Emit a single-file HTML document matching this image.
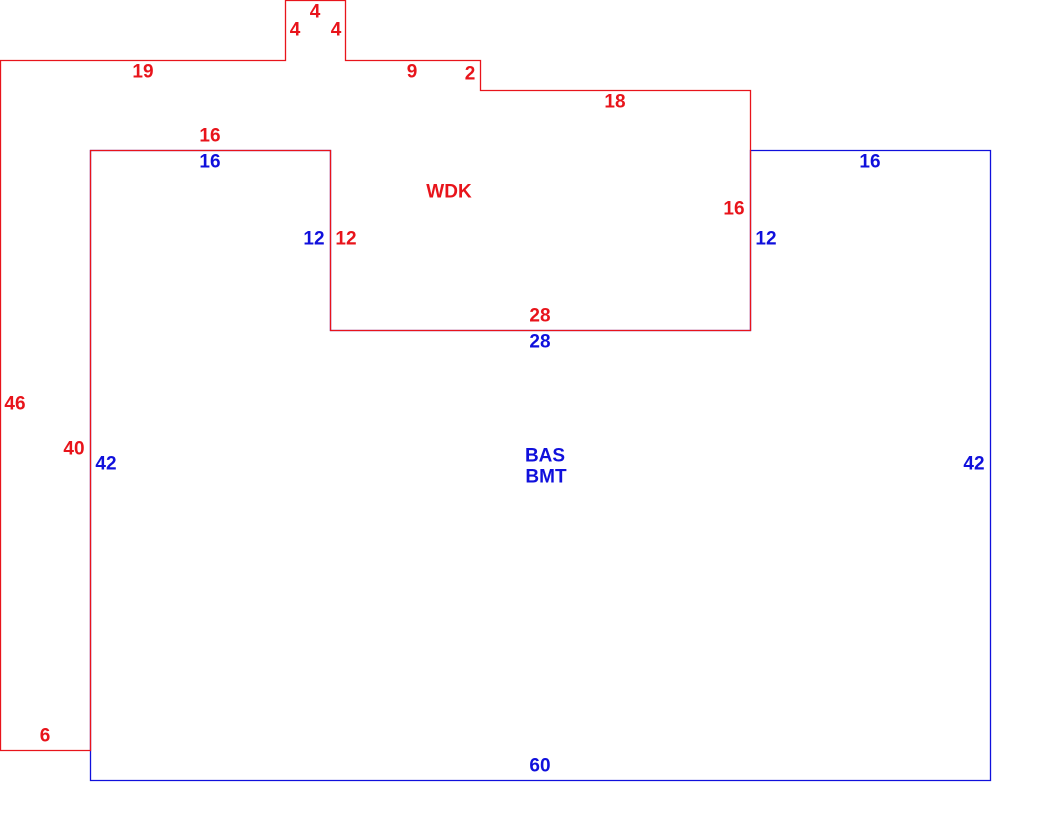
<!DOCTYPE html>
<html><head><meta charset="utf-8"><style>
html,body{margin:0;padding:0;background:#fff;}
svg{display:block;}
text{font-family:"Liberation Sans",Arial,sans-serif;font-weight:bold;font-size:19px;text-anchor:middle;dominant-baseline:central;}
.r{fill:#e8141b;} .b{fill:#1010dc;}
</style></head><body>
<svg width="1040" height="832" viewBox="0 0 1040 832" xmlns="http://www.w3.org/2000/svg">
<polygon points="90.5,150.5 330.5,150.5 330.5,330.5 750.5,330.5 750.5,150.5 990.5,150.5 990.5,780.5 90.5,780.5" fill="none" stroke="#1010dc" stroke-width="1.3"/>
<polygon points="0.5,60.5 285.5,60.5 285.5,0.5 345.5,0.5 345.5,60.5 480.5,60.5 480.5,90.5 750.5,90.5 750.5,330.5 330.5,330.5 330.5,150.5 90.5,150.5 90.5,750.5 0.5,750.5" fill="none" stroke="#e8141b" stroke-width="1.3"/>
<text class="r" x="315" y="12">4</text>
<text class="r" x="295" y="30">4</text>
<text class="r" x="336" y="30">4</text>
<text class="r" x="143" y="72">19</text>
<text class="r" x="412" y="72">9</text>
<text class="r" x="470" y="74">2</text>
<text class="r" x="615" y="102">18</text>
<text class="r" x="210" y="136">16</text>
<text class="b" x="210" y="162">16</text>
<text class="b" x="870" y="162">16</text>
<text class="r" x="449" y="192">WDK</text>
<text class="r" x="734" y="209">16</text>
<text class="b" x="314" y="239">12</text>
<text class="r" x="346" y="239">12</text>
<text class="b" x="766" y="239">12</text>
<text class="r" x="540" y="316">28</text>
<text class="b" x="540" y="342">28</text>
<text class="r" x="15" y="404">46</text>
<text class="r" x="74" y="449">40</text>
<text class="b" x="106" y="464">42</text>
<text class="b" x="974" y="464">42</text>
<text class="b" x="545" y="456">BAS</text>
<text class="b" x="546" y="477">BMT</text>
<text class="r" x="45" y="736">6</text>
<text class="b" x="540" y="766">60</text>
</svg>
</body></html>
